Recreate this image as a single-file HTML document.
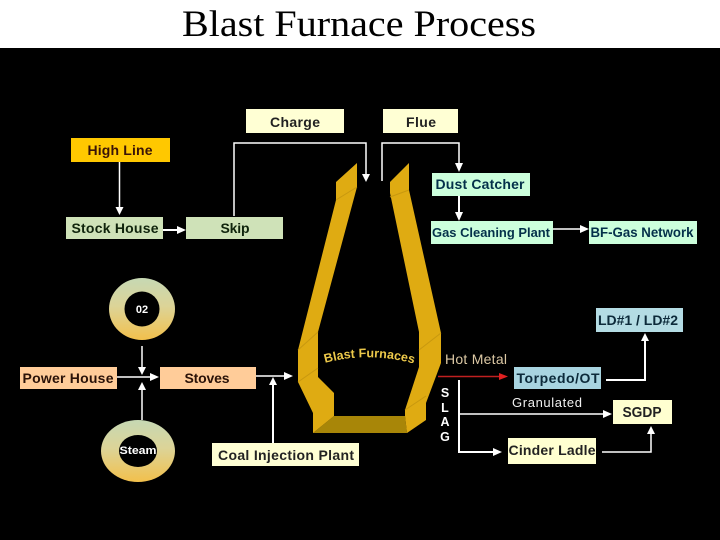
<!DOCTYPE html>
<html>
<head>
<meta charset="utf-8">
<style>
html,body{margin:0;padding:0;background:#000;}
svg{display:block;}
text{font-family:"Liberation Sans",sans-serif;}
.b{font-weight:bold;font-size:14px;text-anchor:middle;}
</style>
</head>
<body>
<svg width="720" height="540" viewBox="0 0 720 540" xmlns="http://www.w3.org/2000/svg">
<defs>
<linearGradient id="g" x1="0" y1="0" x2="0" y2="1">
<stop offset="0" stop-color="#c6d8b4"/>
<stop offset="0.45" stop-color="#dcd498"/>
<stop offset="1" stop-color="#f2c04c"/>
</linearGradient>
<path id="arc" d="M325 363 Q369 351 415 364" fill="none"/>
</defs>
<rect x="0" y="0" width="720" height="540" fill="#000"/>
<rect x="0" y="0" width="720" height="48" fill="#fff"/>
<text x="182" y="36" font-size="37" textLength="354" lengthAdjust="spacingAndGlyphs" fill="#000" style="font-family:'Liberation Serif',serif">Blast Furnace Process</text>

<!-- furnace -->
<polygon points="334,416 405,416 407,433 313,433" fill="#a88608"/>
<polygon points="357,163 336,182 336,200 298,350 298,382 313,413 313,433 334,416 334,393 318,377 318,332 357,187" fill="#dfab12"/>
<polygon points="409,163 390,182 390,193 419,332 419,367 405,410 405,416 407,433 426,420 426,403 441,363 441,333 409,190" fill="#dfab12"/>
<g stroke="#c8980f" stroke-width="1" fill="none">
<line x1="336" y1="200" x2="357" y2="187"/>
<line x1="390" y1="197" x2="409" y2="190"/>
<line x1="298" y1="350" x2="318" y2="332"/>
<line x1="298" y1="382" x2="318" y2="368"/>
<line x1="419" y1="350" x2="441" y2="333"/>
<line x1="405" y1="410" x2="426" y2="396"/>
</g>
<text font-size="12.5" font-weight="bold" fill="#ecc84a"><textPath href="#arc" textLength="90">Blast Furnaces</textPath></text>

<!-- rings -->
<ellipse cx="142" cy="309" rx="33" ry="31" fill="url(#g)"/>
<ellipse cx="142" cy="309" rx="17.5" ry="17.5" fill="#000"/>
<text x="142" y="313" font-size="11" font-weight="bold" fill="#fff" text-anchor="middle">02</text>
<ellipse cx="138" cy="451" rx="37" ry="31" fill="url(#g)"/>
<ellipse cx="138" cy="451" rx="19" ry="16" fill="#000"/>
<text x="138" y="454" font-size="11" font-weight="bold" fill="#fff" text-anchor="middle" textLength="37" lengthAdjust="spacingAndGlyphs">Steam</text>

<!-- boxes -->
<rect x="246" y="109" width="98" height="24" fill="#ffffd4"/>
<rect x="383" y="109" width="75" height="24" fill="#ffffd4"/>
<rect x="71" y="138" width="99" height="24" fill="#ffc800"/>
<rect x="66" y="217" width="97" height="22" fill="#cfe2b8"/>
<rect x="186" y="217" width="97" height="22" fill="#cfe2b8"/>
<rect x="432" y="173" width="98" height="23" fill="#ccffdc"/>
<rect x="431" y="221" width="122" height="23" fill="#ccffdc"/>
<rect x="589" y="221" width="108" height="23" fill="#ccffdc"/>
<rect x="20" y="367" width="97" height="22" fill="#ffcc99"/>
<rect x="160" y="367" width="96" height="22" fill="#ffcc99"/>
<rect x="212" y="443" width="147" height="23" fill="#ffffd4"/>
<rect x="596" y="308" width="87" height="24" fill="#b4dce4"/>
<rect x="514" y="367" width="87" height="22" fill="#a8d4e0"/>
<rect x="613" y="400" width="59" height="24" fill="#ffffd0"/>
<rect x="508" y="438" width="88" height="26" fill="#ffffd0"/>

<!-- box labels -->
<text class="b" x="295" y="127" fill="#222" textLength="50" lengthAdjust="spacing">Charge</text>
<text class="b" x="421" y="127" fill="#222" textLength="30" lengthAdjust="spacing">Flue</text>
<text class="b" x="120" y="155" fill="#3a1408" textLength="65" lengthAdjust="spacing">High Line</text>
<text class="b" x="115" y="233" fill="#10240c" textLength="87" lengthAdjust="spacing">Stock House</text>
<text class="b" x="235" y="233" fill="#10240c" textLength="29" lengthAdjust="spacing">Skip</text>
<text class="b" x="480" y="189" fill="#04304a" textLength="89" lengthAdjust="spacing">Dust Catcher</text>
<text class="b" x="491" y="237" fill="#04304a" style="font-size:13px" textLength="118" lengthAdjust="spacingAndGlyphs">Gas Cleaning Plant</text>
<text class="b" x="642" y="237" fill="#04304a" style="font-size:13.5px" textLength="103" lengthAdjust="spacingAndGlyphs">BF-Gas Network</text>
<text class="b" x="68" y="383" fill="#2a1208" textLength="91" lengthAdjust="spacing">Power House</text>
<text class="b" x="207" y="383" fill="#2a1208" textLength="45" lengthAdjust="spacing">Stoves</text>
<text class="b" x="286" y="460" fill="#222" textLength="136" lengthAdjust="spacing">Coal Injection Plant</text>
<text class="b" x="638" y="325" fill="#0c2a3a" textLength="80" lengthAdjust="spacing">LD#1 / LD#2</text>
<text class="b" x="558" y="383" fill="#0c2a3a" textLength="83" lengthAdjust="spacing">Torpedo/OT</text>
<text class="b" x="642" y="417" fill="#222" style="font-size:15px" textLength="39" lengthAdjust="spacingAndGlyphs">SGDP</text>
<text class="b" x="552" y="455" fill="#222" textLength="87" lengthAdjust="spacing">Cinder Ladle</text>

<!-- free labels -->
<text x="445" y="364" font-size="14" fill="#dcc8a4" textLength="62" lengthAdjust="spacing">Hot Metal</text>
<text x="512" y="407" font-size="13" fill="#f0f0f0" textLength="70" lengthAdjust="spacing">Granulated</text>
<g font-weight="bold" font-size="12.5" fill="#fff" text-anchor="middle">
<text x="445" y="397">S</text>
<text x="445" y="412">L</text>
<text x="445" y="426">A</text>
<text x="445" y="441">G</text>
</g>

<!-- connectors -->
<g fill="none" stroke="#fff" stroke-width="1.5">
<polyline points="234,216 234,143 366,143 366,175"/>
<polyline points="382,181 382,143 459,143 459,164"/>
<line x1="119.5" y1="162" x2="119.5" y2="208"/>
<line x1="163" y1="230" x2="178" y2="230" stroke-width="2"/>
<line x1="459" y1="196" x2="459" y2="213" stroke-width="2"/>
<line x1="553" y1="229" x2="580" y2="229"/>
<line x1="142" y1="346" x2="142" y2="368"/>
<line x1="142" y1="420" x2="142" y2="389"/>
<line x1="117" y1="377" x2="151" y2="377"/>
<line x1="256" y1="376" x2="285" y2="376"/>
<line x1="273" y1="443" x2="273" y2="385" stroke-width="2"/>
<polyline points="606,380 645,380 645,341" stroke-width="2"/>
<polyline points="459,380 459,452 494,452" stroke-width="2"/>
<line x1="459" y1="414" x2="604" y2="414"/>
<polyline points="602,452 651,452 651,434"/>
</g>
<line x1="438" y1="376.5" x2="500" y2="376.5" stroke="#c02020" stroke-width="1.5"/>

<!-- arrowheads -->
<g fill="#fff">
<polygon points="366,182 362,174 370,174"/>
<polygon points="459,172 455,163 463,163"/>
<polygon points="119.5,215 115.5,207 123.5,207"/>
<polygon points="186,230 177,226 177,234"/>
<polygon points="459,221 455,212 463,212"/>
<polygon points="589,229 580,225 580,233"/>
<polygon points="142,375 138,367 146,367"/>
<polygon points="142,382 138,390 146,390"/>
<polygon points="159,377 150,373 150,381"/>
<polygon points="293,376 284,372 284,380"/>
<polygon points="273,377 269,385 277,385"/>
<polygon points="645,333 641,341 649,341"/>
<polygon points="502,452 493,448 493,456"/>
<polygon points="612,414 603,410 603,418"/>
<polygon points="651,426 647,434 655,434"/>
</g>
<polygon points="508,376.5 499,373 499,380" fill="#e02020"/>
</svg>
</body>
</html>
